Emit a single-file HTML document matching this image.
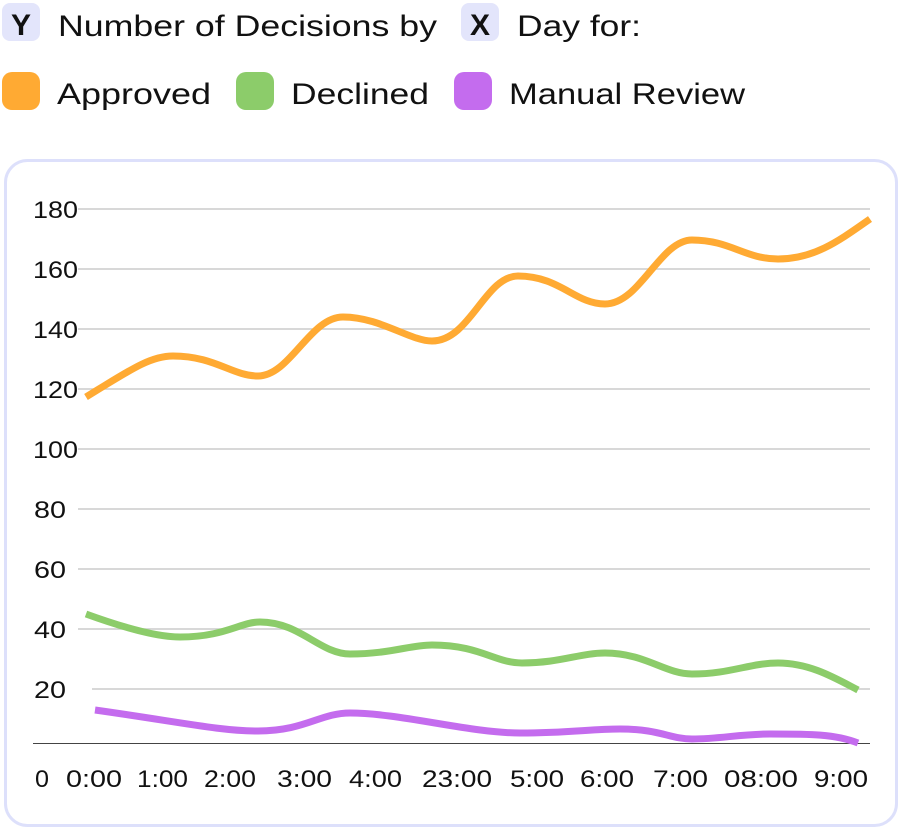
<!DOCTYPE html>
<html><head><meta charset="utf-8"><style>
body{margin:0;width:902px;height:828px;background:#fff;font-family:"Liberation Sans",sans-serif;overflow:hidden}
</style></head><body>
<svg width="902" height="828" xmlns="http://www.w3.org/2000/svg" font-family="Liberation Sans, sans-serif">
<rect x="2" y="3" width="38" height="38" rx="8" fill="#e3e5fb"/>
<text x="21" y="35" font-size="30" font-weight="bold" text-anchor="middle" fill="#111">Y</text>
<text x="58" y="36" font-size="30" fill="#111" textLength="379" lengthAdjust="spacingAndGlyphs">Number of Decisions by</text>
<rect x="461" y="3" width="38" height="38" rx="8" fill="#e3e5fb"/>
<text x="480" y="35" font-size="30" font-weight="bold" text-anchor="middle" fill="#111">X</text>
<text x="517" y="36" font-size="30" fill="#111" textLength="124" lengthAdjust="spacingAndGlyphs">Day for:</text>
<rect x="2" y="72" width="38" height="38" rx="10" fill="#ffaa33"/>
<text x="57" y="104" font-size="30" fill="#111" textLength="154" lengthAdjust="spacingAndGlyphs">Approved</text>
<rect x="236" y="72" width="38" height="38" rx="10" fill="#8ccc6a"/>
<text x="291" y="104" font-size="30" fill="#111" textLength="138" lengthAdjust="spacingAndGlyphs">Declined</text>
<rect x="454" y="72" width="38" height="38" rx="10" fill="#c46cee"/>
<text x="509" y="104" font-size="30" fill="#111" textLength="236" lengthAdjust="spacingAndGlyphs">Manual Review</text>
<rect x="5.5" y="160.5" width="891" height="665" rx="22" fill="#fff" stroke="#dde0fb" stroke-width="3"/>
<g stroke="#cccccc" stroke-width="1.5">
<line x1="78" y1="209" x2="870" y2="209"/><line x1="78" y1="269" x2="870" y2="269"/>
<line x1="78" y1="329" x2="870" y2="329"/><line x1="78" y1="389" x2="870" y2="389"/>
<line x1="78" y1="449" x2="870" y2="449"/><line x1="78" y1="509" x2="870" y2="509"/>
<line x1="78" y1="569" x2="870" y2="569"/><line x1="78" y1="629" x2="870" y2="629"/>
<line x1="92" y1="689" x2="870" y2="689"/>
</g>
<line x1="33" y1="743.5" x2="870" y2="743.5" stroke="#444" stroke-width="1"/>
<g font-size="24" fill="#111">
<text x="33" y="218" textLength="45" lengthAdjust="spacingAndGlyphs">180</text><text x="33" y="278" textLength="45" lengthAdjust="spacingAndGlyphs">160</text><text x="33" y="338" textLength="45" lengthAdjust="spacingAndGlyphs">140</text>
<text x="33" y="398" textLength="45" lengthAdjust="spacingAndGlyphs">120</text><text x="33" y="458" textLength="45" lengthAdjust="spacingAndGlyphs">100</text><text x="34" y="518" textLength="32" lengthAdjust="spacingAndGlyphs">80</text>
<text x="34" y="578" textLength="32" lengthAdjust="spacingAndGlyphs">60</text><text x="34" y="638" textLength="32" lengthAdjust="spacingAndGlyphs">40</text><text x="34" y="698" textLength="32" lengthAdjust="spacingAndGlyphs">20</text>
</g>
<g font-size="24" fill="#111">
<text x="35" y="787" textLength="14" lengthAdjust="spacingAndGlyphs">0</text><text x="66" y="787" textLength="56" lengthAdjust="spacingAndGlyphs">0:00</text><text x="137" y="787" textLength="51" lengthAdjust="spacingAndGlyphs">1:00</text>
<text x="204" y="787" textLength="52" lengthAdjust="spacingAndGlyphs">2:00</text><text x="277" y="787" textLength="55" lengthAdjust="spacingAndGlyphs">3:00</text><text x="349" y="787" textLength="53" lengthAdjust="spacingAndGlyphs">4:00</text>
<text x="422" y="787" textLength="70" lengthAdjust="spacingAndGlyphs">23:00</text><text x="510" y="787" textLength="54" lengthAdjust="spacingAndGlyphs">5:00</text><text x="580" y="787" textLength="54" lengthAdjust="spacingAndGlyphs">6:00</text>
<text x="653" y="787" textLength="55" lengthAdjust="spacingAndGlyphs">7:00</text><text x="724" y="787" textLength="74" lengthAdjust="spacingAndGlyphs">08:00</text><text x="814" y="787" textLength="54" lengthAdjust="spacingAndGlyphs">9:00</text>
</g>
<g fill="none" stroke-width="7" stroke-linecap="butt">
<path stroke="#ffaa33" d="M86,397 C130,370 150,356 173,356 C215,356 232,376 258,376 C290,376 310,317 343,317 C380,317 410,341 432,341 C470,341 485,276 518,276 C560,276 575,304 605,304 C640,304 660,240 692,240 C730,240 745,259 778,259 C815,259 840,240 870,219"/>
<path stroke="#8ccc6a" d="M86,614 C130,630 160,637 180,637 C225,637 240,622 260,622 C300,622 320,654 350,654 C390,654 410,645 432,645 C480,645 495,663 522,663 C560,663 580,653 605,653 C645,653 665,674 692,674 C730,674 750,663 778,663 C810,663 835,678 858,690"/>
<path stroke="#c46cee" d="M95,710 C180,722 220,731 258,731 C305,731 320,713 350,713 C400,713 470,733 520,733 C570,733 590,729 620,729 C660,729 670,739 692,739 C720,739 740,734 770,734 C810,734 835,734 858,743"/>
</g>
</svg>
</body></html>
